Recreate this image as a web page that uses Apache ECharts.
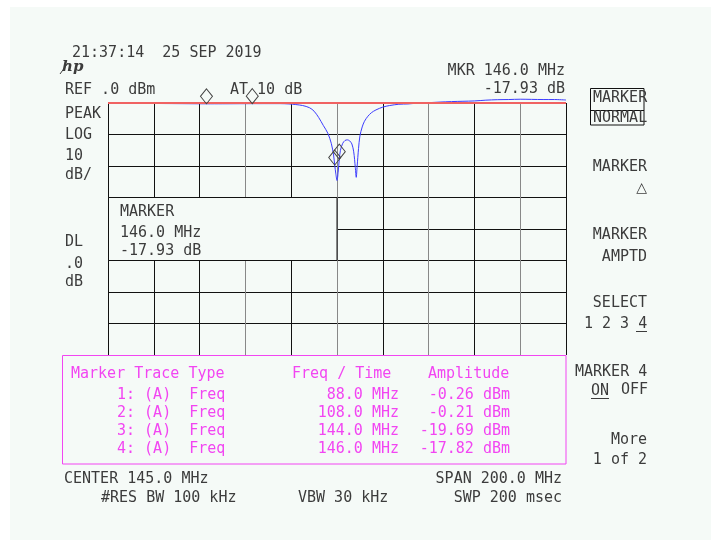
<!DOCTYPE html>
<html>
<head>
<meta charset="utf-8">
<script src="https://cdn.jsdelivr.net/npm/echarts@6/dist/echarts.min.js"></script>
<style>
  html, body { margin: 0; padding: 0; background: #ffffff; }
  #chart { width: 711px; height: 540px; }
</style>
</head>
<body>
<div id="chart"></div>
<script>
// Sweep settings
const centerMHz = 145.0;
const spanMHz = 200.0;
const refLevelDb = 0;
const dbPerDiv = 10;

// Trace A: frequency (MHz) and level (dB)
const freqMHz = [45, 55, 65, 75, 85, 88, 95, 105, 108, 115, 120, 124, 127, 130, 133, 135, 137, 139, 141,
  142.5, 143.5, 144, 144.5, 145, 145.5, 146, 146.5, 147.5, 148.5, 149.5, 150.5, 151.5, 152.3, 153, 153.4,
  153.8, 154.4, 155, 156, 157, 158.5, 160, 162, 165, 168, 172, 176, 180, 185, 190, 195, 200, 205, 210,
  215, 220, 225, 230, 235, 240, 245];
const levelDb = [-0.1, -0.1, -0.15, -0.2, -0.25, -0.26, -0.25, -0.22, -0.21, -0.2, -0.2, -0.3, -0.5, -0.8,
  -1.5, -2.6, -4.6, -7.1, -9.6, -12.8, -16.5, -19.69, -22.5, -24.6, -22.0, -17.82, -15.0, -12.8, -11.9,
  -11.7, -12.0, -13.0, -15.5, -20.5, -23.6, -20.0, -14.5, -10.5, -7.6, -5.8, -4.2, -3.1, -2.2, -1.3, -0.8,
  -0.4, -0.3, -0.05, 0.1, 0.3, 0.45, 0.55, 0.65, 0.9, 1.05, 1.1, 1.2, 1.15, 1.1, 1.1, 0.95];

// Markers 1..4
const markerFreqMHz = [88.0, 108.0, 144.0, 146.0];
const markerAmpDb = [-0.26, -0.21, -19.69, -17.82];

// Marker table rows
const tableHeader = ['Marker Trace Type', 'Freq / Time', 'Amplitude'];
const tableRows = [
  ['1: (A)  Freq', '88.0 MHz', '-0.26 dBm'],
  ['2: (A)  Freq', '108.0 MHz', '-0.21 dBm'],
  ['3: (A)  Freq', '144.0 MHz', '-19.69 dBm'],
  ['4: (A)  Freq', '146.0 MHz', '-17.82 dBm']
];

const BG = '#f5faf7';
const INK = '#3c3c3c';
const MAG = '#f245f2';
const FONT = '15px "DejaVu Sans Mono"';

const halfSpan = spanMHz / 2;
const traceData = freqMHz.map((f, i) => [f - centerMHz, levelDb[i]]);
const markerData = markerFreqMHz.map((f, i) => ({ coord: [f - centerMHz, markerAmpDb[i]] }));

function txt(x, y, text, extra) {
  return {
    type: 'text', z: 120, silent: true,
    style: Object.assign({ text: text, x: x, y: y, font: FONT, fill: INK,
      textAlign: 'left', textVerticalAlign: 'middle' }, extra || {})
  };
}
function line(x1, y1, x2, y2, color, z) {
  return { type: 'line', z: z || 120, silent: true,
    shape: { x1: x1, y1: y1, x2: x2, y2: y2 },
    style: { stroke: color, lineWidth: 1 } };
}

const graphics = [
  // screen area
  { type: 'rect', z: -10, silent: true, shape: { x: 10, y: 7, width: 701, height: 533 }, style: { fill: BG } },
  // overlay box with the active marker readout
  { type: 'rect', z: 50, silent: true, shape: { x: 108.5, y: 197.5, width: 228.5, height: 63 },
    style: { fill: BG, stroke: '#111', lineWidth: 1 } },
  // marker table box
  { type: 'rect', z: 50, silent: true, shape: { x: 62.5, y: 355.5, width: 503.5, height: 108.5 },
    style: { fill: BG, stroke: MAG, lineWidth: 1 } },
  // softkey box
  { type: 'rect', z: 50, silent: true, shape: { x: 590.5, y: 88.5, width: 53.5, height: 36.5 },
    style: { fill: 'none', stroke: '#111', lineWidth: 1 } },
  line(590.5, 110.5, 644, 110.5, '#111'),

  txt(72, 53, '21:37:14  25 SEP 2019'),
  { type: 'text', z: 120, silent: true,
    style: { text: 'hp', x: 62, y: 67, font: 'italic bold 15px "DejaVu Serif"', fill: INK, textVerticalAlign: 'middle' } },
  line(60, 74, 68, 63, INK),
  txt(65, 90, 'REF .0 dBm'),
  txt(230, 90, 'AT 10 dB'),
  txt(565, 71, 'MKR 146.0 MHz', { textAlign: 'right' }),
  txt(565, 89, '-17.93 dB', { textAlign: 'right' }),

  txt(65, 114, 'PEAK'),
  txt(65, 135, 'LOG'),
  txt(65, 156, '10'),
  txt(65, 175, 'dB/'),
  txt(65, 242, 'DL'),
  txt(65, 264, '.0'),
  txt(65, 282, 'dB'),

  txt(120, 212, 'MARKER'),
  txt(120, 233, '146.0 MHz'),
  txt(120, 251, '-17.93 dB'),

  // softkey labels
  txt(593, 98, 'MARKER'),
  txt(593, 118, 'NORMAL'),
  txt(647, 167, 'MARKER', { textAlign: 'right' }),
  txt(647, 188, '\u25B3', { textAlign: 'right', font: '14px "DejaVu Sans"' }),
  txt(647, 235, 'MARKER', { textAlign: 'right' }),
  txt(647, 257, 'AMPTD', { textAlign: 'right' }),
  txt(647, 303, 'SELECT', { textAlign: 'right' }),
  txt(584, 324, '1 2 3 4'),
  line(636, 331.5, 647, 331.5, INK),
  txt(575, 372, 'MARKER 4'),
  txt(591, 391, 'ON'),
  line(591, 398.5, 609, 398.5, INK),
  txt(621, 390, 'OFF'),
  txt(647, 440, 'More', { textAlign: 'right' }),
  txt(647, 460, '1 of 2', { textAlign: 'right' }),

  // bottom annotations
  txt(64, 479, 'CENTER 145.0 MHz'),
  txt(562, 479, 'SPAN 200.0 MHz', { textAlign: 'right' }),
  txt(101, 498, '#RES BW 100 kHz'),
  txt(298, 498, 'VBW 30 kHz'),
  txt(562, 498, 'SWP 200 msec', { textAlign: 'right' })
];

// marker table text
graphics.push(txt(71, 374, tableHeader[0], { fill: MAG }));
graphics.push(txt(292, 374, tableHeader[1], { fill: MAG }));
graphics.push(txt(428, 374, tableHeader[2], { fill: MAG }));
tableRows.forEach((r, i) => {
  const y = 395 + i * 18;
  graphics.push(txt(117, y, r[0], { fill: MAG }));
  graphics.push(txt(399, y, r[1], { fill: MAG, textAlign: 'right' }));
  graphics.push(txt(510, y, r[2], { fill: MAG, textAlign: 'right' }));
});

const chart = echarts.init(document.getElementById('chart'), null, { renderer: 'canvas' });
chart.setOption({
  animation: false,
  backgroundColor: '#ffffff',
  grid: { left: 108, top: 103, width: 458, height: 252, containLabel: false, show: false },
  xAxis: {
    type: 'value', min: -halfSpan, max: halfSpan, interval: spanMHz / 10,
    axisLine: { show: false }, axisTick: { show: false }, axisLabel: { show: false },
    splitLine: { show: true, showMinLine: true, showMaxLine: true,
      lineStyle: { width: 1, color: ['#111', '#111', '#111', '#888', '#111', '#888', '#111', '#888', '#111', '#888', '#111'] } }
  },
  yAxis: {
    type: 'value', min: refLevelDb - 8 * dbPerDiv, max: refLevelDb, interval: dbPerDiv,
    axisLine: { show: false }, axisTick: { show: false }, axisLabel: { show: false },
    splitLine: { show: true, showMinLine: true, showMaxLine: true, lineStyle: { width: 1, color: '#111' } }
  },
  series: [{
    type: 'line',
    data: traceData,
    clip: false,
    showSymbol: false,
    smooth: 0.3,
    lineStyle: { color: '#3c3cff', width: 1 },
    z: 3,
    markLine: {
      silent: true, symbol: ['none', 'none'], label: { show: false },
      lineStyle: { color: '#f06262', width: 2, type: 'solid' },
      data: [{ yAxis: refLevelDb }]
    },
    markPoint: {
      silent: true,
      symbol: 'diamond',
      symbolSize: [12, 15],
      symbolOffset: [0, '-50%'],
      label: { show: false },
      itemStyle: { color: 'rgba(0,0,0,0)', borderColor: '#444', borderWidth: 1 },
      data: markerData
    }
  }],
  graphic: { elements: graphics }
});
</script>
</body>
</html>
